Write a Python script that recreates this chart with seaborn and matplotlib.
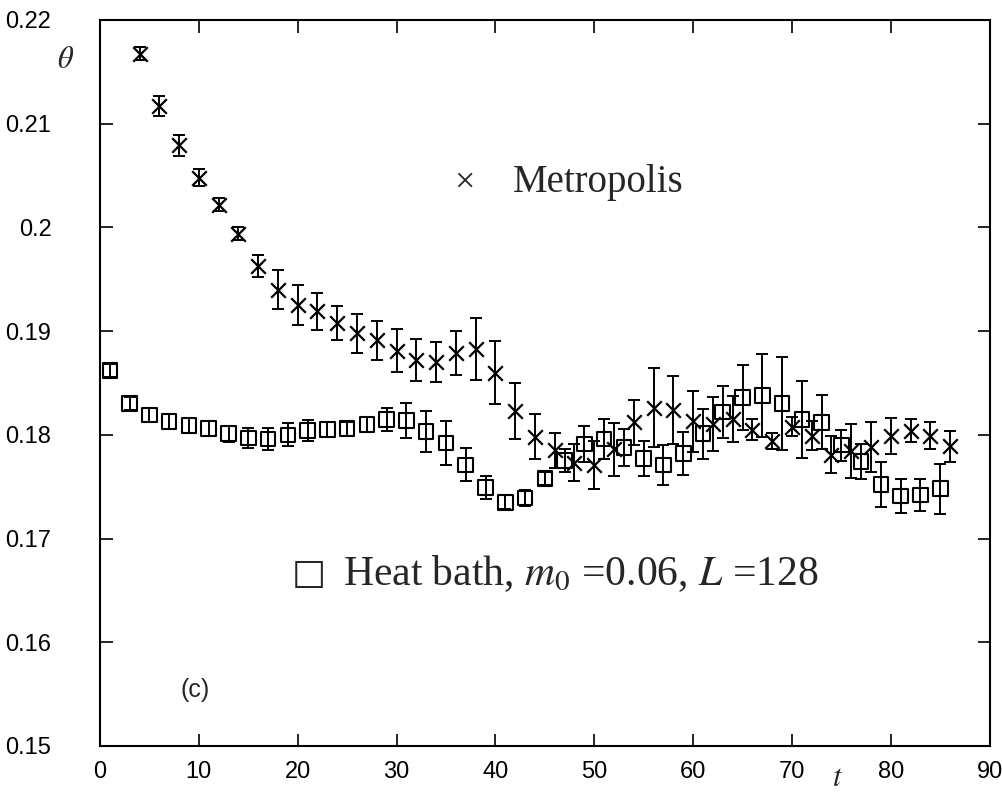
import matplotlib
matplotlib.use("Agg")
import matplotlib.pyplot as plt
import seaborn as sns
import numpy as np
from matplotlib.ticker import FixedLocator, FuncFormatter

# ---- data ----
metro_t = [4, 6, 8, 10, 12, 14, 16, 18, 20, 22, 24, 26, 28, 30, 32, 34, 36, 38, 40, 42,
           44, 46, 48, 50, 52, 54, 56, 58, 60, 62, 64, 66, 68, 70, 72, 74, 76, 78, 80, 82, 84, 86]
metro_theta = [0.21675, 0.2117, 0.2079, 0.2048, 0.2022, 0.1994, 0.1963, 0.1940, 0.1925, 0.1919,
               0.1908, 0.1898, 0.1891, 0.1881, 0.1872, 0.1870, 0.1879, 0.1883, 0.1860, 0.1823,
               0.1798, 0.1785, 0.1773, 0.1771, 0.1786, 0.1812, 0.1826, 0.1824, 0.1813, 0.1810,
               0.1815, 0.1805, 0.1794, 0.1808, 0.1799, 0.1781, 0.1784, 0.1788, 0.1799, 0.1804,
               0.1799, 0.1789]
metro_err = [0.00064, 0.00096, 0.0010, 0.0008, 0.0006, 0.00064, 0.00105, 0.00185, 0.00195, 0.00176,
             0.00164, 0.00187, 0.00189, 0.00208, 0.00201, 0.00195, 0.00211, 0.0030, 0.0030, 0.0027,
             0.00216, 0.0017, 0.0018, 0.0023, 0.00256, 0.0022, 0.0038, 0.0033, 0.00295, 0.0026,
             0.0022, 0.0010, 0.0008, 0.00088, 0.0014, 0.0018, 0.0026, 0.0024, 0.00175, 0.0011,
             0.0013, 0.0015]

heat_t = [1, 3, 5, 7, 9, 11, 13, 15, 17, 19, 21, 23, 25, 27, 29, 31, 33, 35, 37, 39, 41, 43,
          45, 47, 49, 51, 53, 55, 57, 59, 61, 63, 65, 67, 69, 71, 73, 75, 77, 79, 81, 83, 85]
heat_theta = [0.1862, 0.1830, 0.1819, 0.1813, 0.1809, 0.1806, 0.1801, 0.1797, 0.1796, 0.1800,
              0.1804, 0.1805, 0.1806, 0.1810, 0.1815, 0.1814, 0.1803, 0.1792, 0.1771, 0.1749,
              0.1735, 0.1739, 0.1758, 0.1775, 0.1791, 0.1796, 0.1788, 0.1777, 0.1771, 0.1782,
              0.1801, 0.1822, 0.1836, 0.1838, 0.1830, 0.1815, 0.1812, 0.1790, 0.1774, 0.1752,
              0.1741, 0.1742, 0.1748]
heat_err = [0.00064, 0.00064, 0.00065, 0.0007, 0.0007, 0.0007, 0.00077, 0.0010, 0.0011, 0.0011,
            0.0010, 0.0007, 0.00067, 0.00074, 0.0011, 0.0017, 0.0020, 0.0021, 0.0016, 0.0011,
            0.00067, 0.00074, 0.00064, 0.0011, 0.00175, 0.0019, 0.0018, 0.0017, 0.0019, 0.0021,
            0.0024, 0.0025, 0.0031, 0.0040, 0.0045, 0.0037, 0.0026, 0.0015, 0.0017, 0.0022,
            0.0016, 0.0015, 0.0024]

x_ticks = [0, 10, 20, 30, 40, 50, 60, 70, 80, 90]
y_ticks = [0.15, 0.16, 0.17, 0.18, 0.19, 0.20, 0.21, 0.22]

# ---- style ----
sns.set_theme(style="ticks")
plt.rcParams["font.family"] = ["Liberation Sans", "DejaVu Sans"]
plt.rcParams["mathtext.fontset"] = "stix"

fig = plt.figure(figsize=(10.03, 8.05), dpi=100)
ax = fig.add_axes([0.0997, 0.0733, 0.887, 0.902])

ax.errorbar(metro_t, metro_theta, yerr=metro_err, fmt="none", ecolor="black",
            elinewidth=1.4, capsize=4.5, capthick=1.4)
ax.errorbar(heat_t, heat_theta, yerr=heat_err, fmt="none", ecolor="black",
            elinewidth=1.4, capsize=4.5, capthick=1.4)
sns.scatterplot(x=metro_t, y=metro_theta, ax=ax, marker="x", color="black",
                s=110, linewidth=1.6, zorder=3)
sns.scatterplot(x=heat_t, y=heat_theta, ax=ax, marker="s", color="black",
                facecolor="none", edgecolor="black", s=110, linewidth=1.5, zorder=3)

ax.set_xlim(0, 90)
ax.set_ylim(0.15, 0.22)
ax.xaxis.set_major_locator(FixedLocator(x_ticks))
ax.yaxis.set_major_locator(FixedLocator(y_ticks))
ax.yaxis.set_major_formatter(FuncFormatter(lambda v, p: f"{v:g}"))
ax.set_xlabel("")
ax.set_ylabel("")

for s in ax.spines.values():
    s.set_linewidth(1.5)
    s.set_color("black")
    s.set_visible(True)

ax.tick_params(axis="both", which="major", direction="in", top=True, right=True,
               length=9, width=1.2, colors="black", labelsize=17)
ax.tick_params(axis="y", pad=35)
ax.tick_params(axis="x", pad=11)

# annotations
ax.text(0.410, 0.7755, "\u00d7", transform=ax.transAxes, fontsize=26,
        ha="center", va="center", family=["Liberation Serif", "DejaVu Sans"])
ax.text(0.464, 0.7755, "Metropolis", transform=ax.transAxes, fontsize=28,
        ha="left", va="center", family=["Liberation Serif", "DejaVu Serif"])
ax.text(0.235, 0.237, "\u25a1", transform=ax.transAxes, fontsize=26,
        ha="center", va="center", family=["DejaVu Sans"])
ax.text(0.273, 0.237, "Heat bath, $m_0$ =0.06, $L$ =128", transform=ax.transAxes,
        fontsize=30, ha="left", va="center", family=["Liberation Serif", "DejaVu Serif"])
ax.text(0.09, 0.077, "(c)", transform=ax.transAxes, fontsize=18,
        ha="left", va="center")

fig.text(0.065, 0.925, r"$\theta$", fontsize=22, ha="center", va="center")
fig.text(0.835, 0.034, r"$t$", fontsize=22, ha="center", va="center")

fig.savefig("out.png", dpi=100)
